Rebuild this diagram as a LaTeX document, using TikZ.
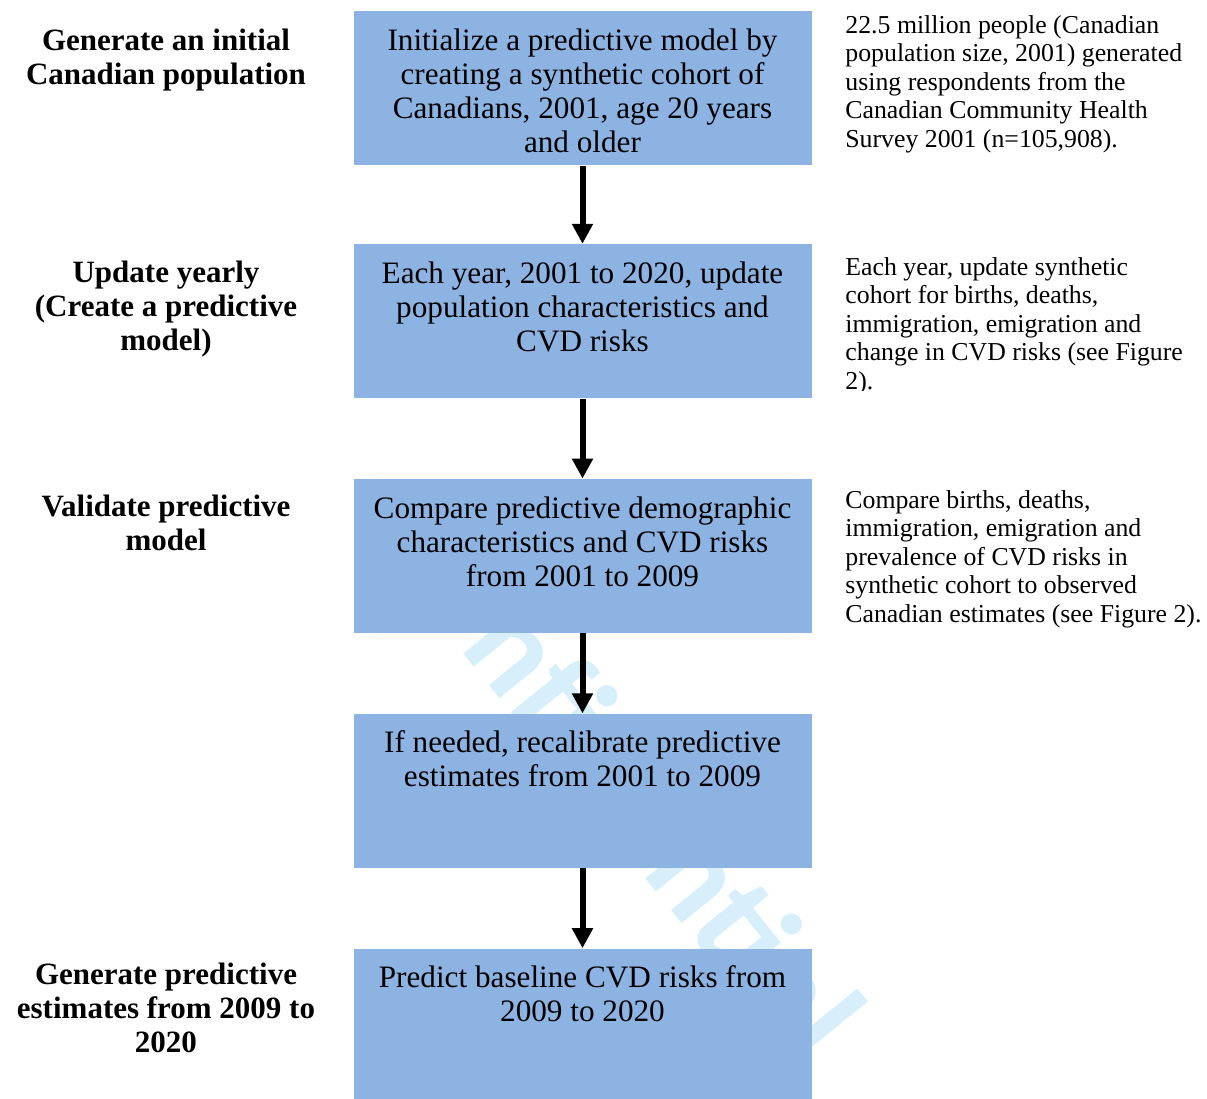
\documentclass[tikz,border=0pt]{standalone}
\usepackage{fontspec}
\setmainfont{Liberation Serif}
\newfontfamily\wmfont{Carlito}
\usetikzlibrary{arrows.meta, positioning}

\definecolor{boxblue}{RGB}{141,179,226}
\definecolor{wmblue}{RGB}{214,239,251}

% text blocks, top aligned
\newcommand{\boxtext}[1]{\parbox[c][77pt][t]{226pt}{\centering\rule{0pt}{19.5pt}#1}}
\newcommand{\stagetext}[1]{\parbox[t]{175pt}{\centering\rule{0pt}{19.5pt}#1}}
\newcommand{\notetext}[1]{\parbox[t]{200pt}{\raggedright\rule{0pt}{10pt}#1}}

\begin{document}
\begin{tikzpicture}[x=0.5pt, y=-0.5pt, >=Stealth,
    stepbox/.style={fill=boxblue, inner sep=0pt, minimum width=229pt,
      minimum height=77pt, font=\fontsize{15.6}{17}\selectfont},
    stagelabel/.style={inner sep=0pt, anchor=north,
      font=\fontsize{15.5}{17}\selectfont\bfseries},
    sidenote/.style={inner sep=0pt, anchor=north west,
      font=\fontsize{12.9}{14.25}\selectfont},
    flow/.style={line width=3pt, -{Triangle[width=10pt, length=10pt]}}]

    \useasboundingbox (0,0) rectangle (1207,1099);

    % 1. watermark behind everything
    \node[text=wmblue, rotate=-51, font=\wmfont\bfseries\fontsize{68}{68}\selectfont]
          (mark) at (620,772) {Confidential};

    % 2. steps of the flow
    \node[stepbox, anchor=north] (init) at (582.5,11)
          {\boxtext{Initialize a predictive model by\\creating a synthetic cohort of\\
          Canadians, 2001, age 20 years\\and older}};
    \node[stepbox, below=39pt of init] (update)
          {\boxtext{Each year, 2001 to 2020, update\\population characteristics and\\CVD risks}};
    \node[stepbox, below=40pt of update] (compare)
          {\boxtext{Compare predictive demographic\\characteristics and CVD risks\\from 2001 to 2009}};
    \node[stepbox, below=40pt of compare] (recal)
          {\boxtext{If needed, recalibrate predictive\\estimates from 2001 to 2009}};
    \node[stepbox, below=40pt of recal] (predict)
          {\boxtext{Predict baseline CVD risks from\\2009 to 2020}};

    \foreach \a/\b in {init/update, update/compare, compare/recal, recal/predict}{
      \draw[flow] (\a) -- (\b);
    }

    % 3. stage names on the left
    \node[stagelabel] (lbinit) at (166,11)
          {\stagetext{Generate an initial\\Canadian population}};
    \node[stagelabel] (lbupdate) at (166,243)
          {\stagetext{Update yearly\\(Create a predictive\\model)}};
    \node[stagelabel] (lbcompare) at (166,477)
          {\stagetext{Validate predictive\\model}};
    \node[stagelabel] (lbpredict) at (166,945)
          {\stagetext{Generate predictive\\estimates from 2009 to\\2020}};

    % 4. notes on the right
    \node[sidenote] (ntinit) at (845,13)
          {\notetext{22.5 million people (Canadian\\population size, 2001) generated\\
          using respondents from the\\Canadian Community Health\\Survey 2001 (n=105,908).}};
    \begin{scope}
      \clip (830,240) rectangle (1207,390);
      \node[sidenote] (ntupdate) at (845,255)
            {\notetext{Each year, update synthetic\\cohort for births, deaths,\\
            immigration, emigration and\\change in CVD risks (see Figure\\2).}};
    \end{scope}
    \node[sidenote] (ntcompare) at (845,488)
          {\notetext{Compare births, deaths,\\immigration, emigration and\\
          prevalence of CVD risks in\\synthetic cohort to observed\\
          Canadian estimates (see Figure 2).}};

  \end{tikzpicture}
\end{document}
